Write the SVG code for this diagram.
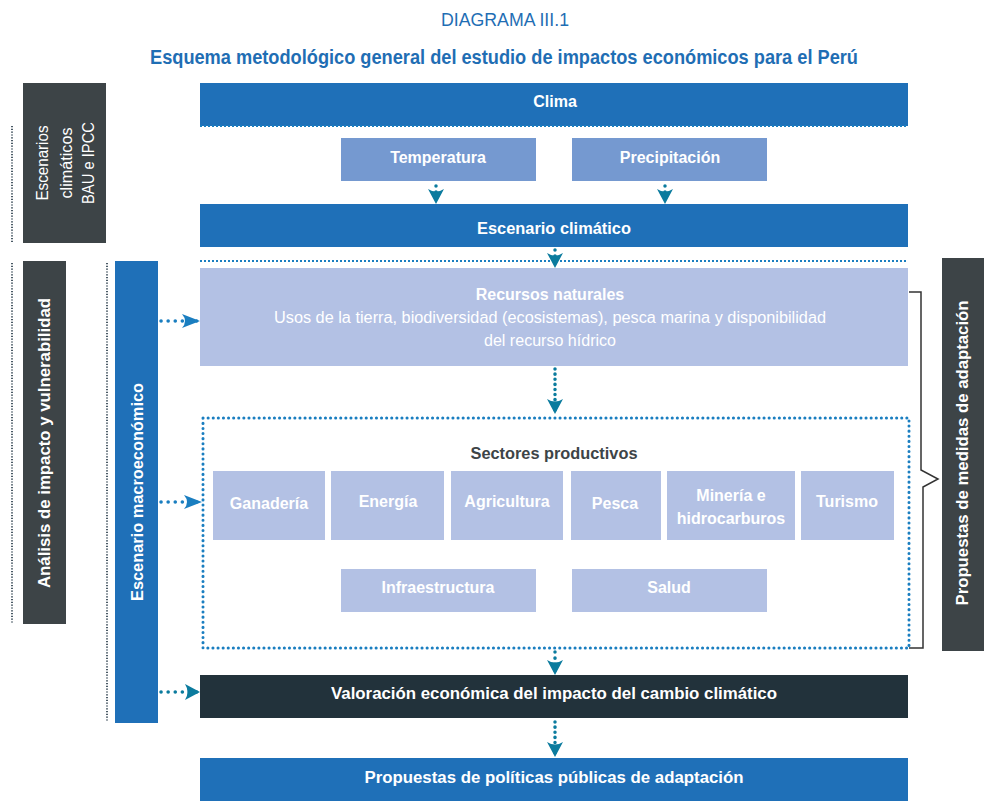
<svg xmlns="http://www.w3.org/2000/svg" width="984" height="807" viewBox="0 0 984 807">
<defs>
<style>
.t{font-family:"Liberation Sans",Arial,sans-serif;}
.b{font-weight:bold;font-size:16px;fill:#fff;text-anchor:middle;}
.r{font-size:16px;fill:#fff;text-anchor:middle;}
.dk{fill:#3d4447;}
.blue{fill:#1f70b8;}
.med{fill:#7599d0;}
.lt{fill:#b3c1e4;}
.sep{stroke:#1a7ec0;stroke-width:2;stroke-dasharray:2 2;fill:none;}
.vd{stroke:#4a5a66;stroke-width:2;stroke-dasharray:1.2 1.6;fill:none;}
.ar{stroke:#0b7b9e;stroke-width:3.5;stroke-linecap:round;stroke-dasharray:0.1 6;fill:none;}
.arb{stroke:#1a7ec0;stroke-width:3.5;stroke-linecap:round;stroke-dasharray:0.1 7;fill:none;}
</style>
<marker id="ah" viewBox="0 0 15 16" refX="15" refY="8" markerWidth="15" markerHeight="16" markerUnits="userSpaceOnUse" orient="auto">
<path d="M0,0 Q5,8 0,16 L15,8 Z" fill="#0b7b9e"/>
</marker>
<marker id="ahb" viewBox="0 0 18 14" refX="18" refY="7" markerWidth="18" markerHeight="14" markerUnits="userSpaceOnUse" orient="auto">
<path d="M0,0 Q6,7 0,14 L18,7 Z" fill="#1a7ec0"/>
</marker>
</defs>
<rect width="984" height="807" fill="#fff"/>

<g id="title">
<text class="t" x="505" y="26" font-size="19" fill="#1f6eb4" text-anchor="middle" textLength="128" lengthAdjust="spacingAndGlyphs">DIAGRAMA III.1</text>
<text class="t" x="504" y="64" font-size="21" font-weight="bold" fill="#1f6eb4" text-anchor="middle" textLength="708" lengthAdjust="spacingAndGlyphs">Esquema metodológico general del estudio de impactos económicos para el Perú</text>
</g>

<g id="side-left">
<line class="vd" x1="12" y1="126" x2="12" y2="243"/>
<line class="vd" x1="12" y1="263" x2="12" y2="624"/>
<line class="vd" x1="107" y1="263" x2="107" y2="722"/>
</g>

<g id="escenarios-bau">
<rect class="dk" x="23" y="83" width="83" height="160"/>
<text class="t r" font-size="18" transform="translate(65,163) rotate(-90)"><tspan x="0" y="-17" textLength="75" lengthAdjust="spacingAndGlyphs">Escenarios</tspan><tspan x="0" y="6.5" textLength="71" lengthAdjust="spacingAndGlyphs">climáticos</tspan><tspan x="0" y="29" textLength="82" lengthAdjust="spacingAndGlyphs">BAU e IPCC</tspan></text>
</g>

<g id="analisis">
<rect class="dk" x="23" y="261" width="43" height="363"/>
<text class="t b" font-size="17" transform="translate(44,443) rotate(-90)" y="6" textLength="290" lengthAdjust="spacingAndGlyphs">Análisis de impacto y vulnerabilidad</text>
</g>

<g id="macro">
<rect class="blue" x="115" y="261" width="43" height="462"/>
<text class="t b" font-size="17" transform="translate(137,492) rotate(-90)" y="6" textLength="218" lengthAdjust="spacingAndGlyphs">Escenario macroeconómico</text>
</g>

<g id="clima">
<rect class="blue" x="200" y="83" width="708" height="43"/>
<text class="t b" x="555" y="107">Clima</text>
</g>
<line class="sep" x1="200" y1="126" x2="908" y2="126"/>

<g id="temperatura">
<rect class="med" x="341" y="138" width="195" height="43"/>
<text class="t b" x="438" y="163">Temperatura</text>
</g>
<g id="precipitacion">
<rect class="med" x="572" y="138" width="195" height="43"/>
<text class="t b" x="670" y="163">Precipitación</text>
</g>

<g id="escenario-climatico">
<rect class="blue" x="200" y="204" width="708" height="43"/>
<text class="t b" x="554" y="234" textLength="154" lengthAdjust="spacingAndGlyphs">Escenario climático</text>
</g>
<line class="sep" x1="200" y1="261" x2="908" y2="261"/>

<g id="recursos">
<rect class="lt" x="200" y="268" width="708" height="98"/>
<text class="t b" x="550" y="300">Recursos naturales</text>
<text class="t r" x="550" y="323" font-size="16" textLength="552" lengthAdjust="spacingAndGlyphs">Usos de la tierra, biodiversidad (ecosistemas), pesca marina y disponibilidad</text>
<text class="t r" x="550" y="346" font-size="16" textLength="132" lengthAdjust="spacingAndGlyphs">del recurso hídrico</text>
</g>

<g id="sectores">
<rect x="203" y="418" width="706" height="230" fill="none" stroke="#1a7ec0" stroke-width="3" stroke-linecap="round" stroke-dasharray="0.1 5"/>
<text class="t" x="554" y="459" font-size="16" font-weight="bold" fill="#3d4447" text-anchor="middle" textLength="167" lengthAdjust="spacingAndGlyphs">Sectores productivos</text>
</g>
<g id="ganaderia"><rect class="lt" x="213" y="471" width="112" height="69"/><text class="t b" x="269" y="509">Ganadería</text></g>
<g id="energia"><rect class="lt" x="331" y="471" width="113" height="69"/><text class="t b" x="388" y="507">Energía</text></g>
<g id="agricultura"><rect class="lt" x="451" y="471" width="112" height="69"/><text class="t b" x="507" y="507">Agricultura</text></g>
<g id="pesca"><rect class="lt" x="571" y="471" width="90" height="69"/><text class="t b" x="615" y="509">Pesca</text></g>
<g id="mineria"><rect class="lt" x="667" y="471" width="128" height="69"/><text class="t b" x="731" y="501">Minería e</text><text class="t b" x="731" y="524">hidrocarburos</text></g>
<g id="turismo"><rect class="lt" x="801" y="471" width="93" height="69"/><text class="t b" x="847" y="507">Turismo</text></g>
<g id="infraestructura"><rect class="lt" x="341" y="569" width="195" height="43"/><text class="t b" x="438" y="593">Infraestructura</text></g>
<g id="salud"><rect class="lt" x="572" y="569" width="195" height="43"/><text class="t b" x="669" y="593">Salud</text></g>

<g id="valoracion">
<rect x="200" y="675" width="708" height="43" fill="#22323b"/>
<text class="t b" x="554" y="699" textLength="446" lengthAdjust="spacingAndGlyphs">Valoración económica del impacto del cambio climático</text>
</g>

<g id="politicas">
<rect class="blue" x="200" y="758" width="708" height="43"/>
<text class="t b" x="554" y="783" textLength="379" lengthAdjust="spacingAndGlyphs">Propuestas de políticas públicas de adaptación</text>
</g>

<g id="medidas">
<rect class="dk" x="942" y="258" width="42" height="393"/>
<text class="t b" font-size="17" transform="translate(962,453) rotate(-90)" y="6" textLength="305" lengthAdjust="spacingAndGlyphs">Propuestas de medidas de adaptación</text>
</g>

<g id="connectors">
<line class="ar" x1="436" y1="186" x2="436" y2="204" marker-end="url(#ah)"/>
<line class="ar" x1="665" y1="186" x2="665" y2="204" marker-end="url(#ah)"/>
<line class="ar" x1="555" y1="250" x2="555" y2="268" marker-end="url(#ah)"/>
<line class="ar" x1="555" y1="369" x2="555" y2="414" marker-end="url(#ah)" style="stroke-dasharray:0.1 5"/>
<line class="ar" x1="555" y1="652" x2="555" y2="675" marker-end="url(#ah)"/>
<line class="ar" x1="555" y1="722" x2="555" y2="757" marker-end="url(#ah)" style="stroke-dasharray:0.1 5"/>
<line class="arb" x1="161" y1="321" x2="200" y2="321" marker-end="url(#ahb)"/>
<line class="arb" x1="161" y1="502" x2="202" y2="502" marker-end="url(#ahb)"/>
<line class="ar" x1="161" y1="692" x2="200" y2="692" marker-end="url(#ah)" style="stroke-dasharray:0.1 7"/>
<path d="M909,292 H921 V470 L938,479 L923,487 V648 H909" fill="none" stroke="#333" stroke-width="1.5"/>
</g>
</svg>
